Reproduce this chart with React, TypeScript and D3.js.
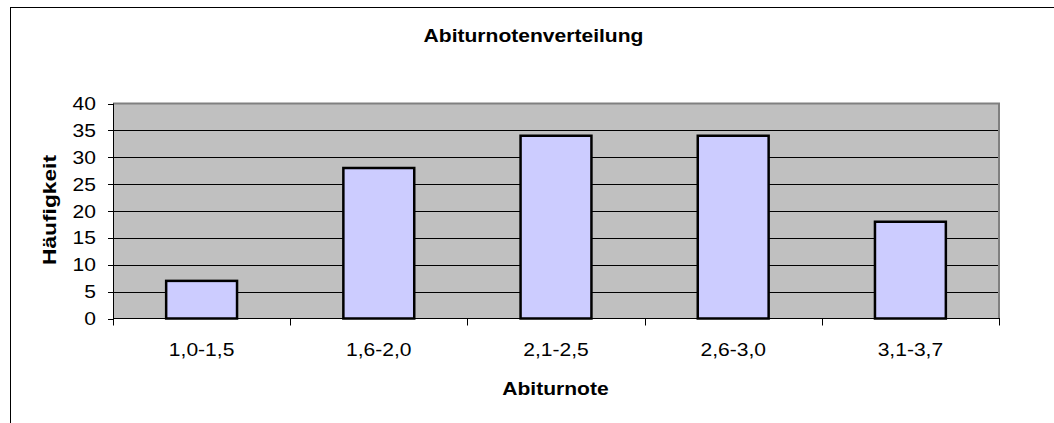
import React from "react";
import * as d3 from "d3";

const categories = ["1,0-1,5", "1,6-2,0", "2,1-2,5", "2,6-3,0", "3,1-3,7"];
const values = [7, 28, 34, 34, 18];
const yTicks = [0, 5, 10, 15, 20, 25, 30, 35, 40];
const title = "Abiturnotenverteilung";
const xTitle = "Abiturnote";
const yTitle = "Häufigkeit";

const W = 1054;
const H = 423;
const plot = { left: 113, right: 999, top: 103.5, bottom: 318.5 };
const SX = 1.17;
const FONT = "'Liberation Sans', Arial, sans-serif";

export default function App() {
  const x = d3
    .scaleBand<string>()
    .domain(categories)
    .range([plot.left, plot.right])
    .paddingInner(0.6)
    .paddingOuter(0.3);
  const y = d3.scaleLinear().domain([0, 40]).range([plot.bottom, plot.top]);
  const step = x.step();
  const boundaries = d3.range(categories.length + 1).map((i) => plot.left + i * (plot.right - plot.left) / categories.length);

  return (
    <svg
      width={W}
      height={H}
      style={{ position: "absolute", left: 0, top: 0, background: "#fff" }}
      fontFamily={FONT}
    >
      <rect x={10.5} y={7.5} width={1200} height={600} fill="#fff" stroke="#000" strokeWidth={1} />
      <text
        transform={`translate(533.5,42) scale(${SX},1)`}
        textAnchor="middle"
        fontSize={18}
        fontWeight="bold"
      >
        {title}
      </text>
      {/* plot area */}
      <rect x={plot.left} y={plot.top} width={plot.right - plot.left} height={plot.bottom - plot.top} fill="#C0C0C0" />
      {/* gridlines */}
      {yTicks.filter((t) => t > 0 && t < 40).map((t) => (
        <line key={t} x1={plot.left} x2={plot.right} y1={Math.round(y(t)) + 0.5} y2={Math.round(y(t)) + 0.5} stroke="#000" strokeWidth={1} />
      ))}
      {/* plot border top/right gray */}
      <line x1={plot.left} x2={plot.right + 1} y1={plot.top} y2={plot.top} stroke="#808080" strokeWidth={2} />
      <line x1={plot.right} x2={plot.right} y1={plot.top} y2={plot.bottom} stroke="#808080" strokeWidth={2} />
      {/* bars */}
      {values.map((v, i) => (
        <rect
          key={i}
          x={x(categories[i])!}
          y={y(v)}
          width={x.bandwidth()}
          height={y(0) - y(v)}
          fill="#CCCCFF"
          stroke="#000"
          strokeWidth={2.5}
        />
      ))}
      {/* y axis */}
      <line x1={plot.left + 0.5} x2={plot.left + 0.5} y1={plot.top} y2={plot.bottom} stroke="#000" strokeWidth={1} />
      {yTicks.map((t) => (
        <g key={t}>
          <line x1={108} x2={plot.left} y1={Math.round(y(t)) + 0.5} y2={Math.round(y(t)) + 0.5} stroke="#000" strokeWidth={1} />
          <text
            transform={`translate(96,${y(t) + 6.5}) scale(${SX},1)`}
            textAnchor="end"
            fontSize={18}
          >
            {t}
          </text>
        </g>
      ))}
      {/* x axis */}
      <line x1={plot.left} x2={plot.right + 1} y1={Math.round(plot.bottom) + 0.5 - 1} y2={Math.round(plot.bottom) + 0.5 - 1} stroke="#000" strokeWidth={1} />
      {boundaries.map((b, i) => (
        <line key={i} x1={Math.round(b) + 0.5} x2={Math.round(b) + 0.5} y1={plot.bottom} y2={plot.bottom + 7} stroke="#000" strokeWidth={1} />
      ))}
      {categories.map((c) => (
        <text
          key={c}
          transform={`translate(${x(c)! + x.bandwidth() / 2},356) scale(${SX},1)`}
          textAnchor="middle"
          fontSize={18}
        >
          {c}
        </text>
      ))}
      <text
        transform={`translate(555.5,395) scale(${SX},1)`}
        textAnchor="middle"
        fontSize={18}
        fontWeight="bold"
      >
        {xTitle}
      </text>
      <text
        transform={`translate(56,210) rotate(-90)`}
        textAnchor="middle"
        fontSize={18}
        fontWeight="bold"
        textLength={110}
        lengthAdjust="spacingAndGlyphs"
      >
        {yTitle}
      </text>
    </svg>
  );
}
